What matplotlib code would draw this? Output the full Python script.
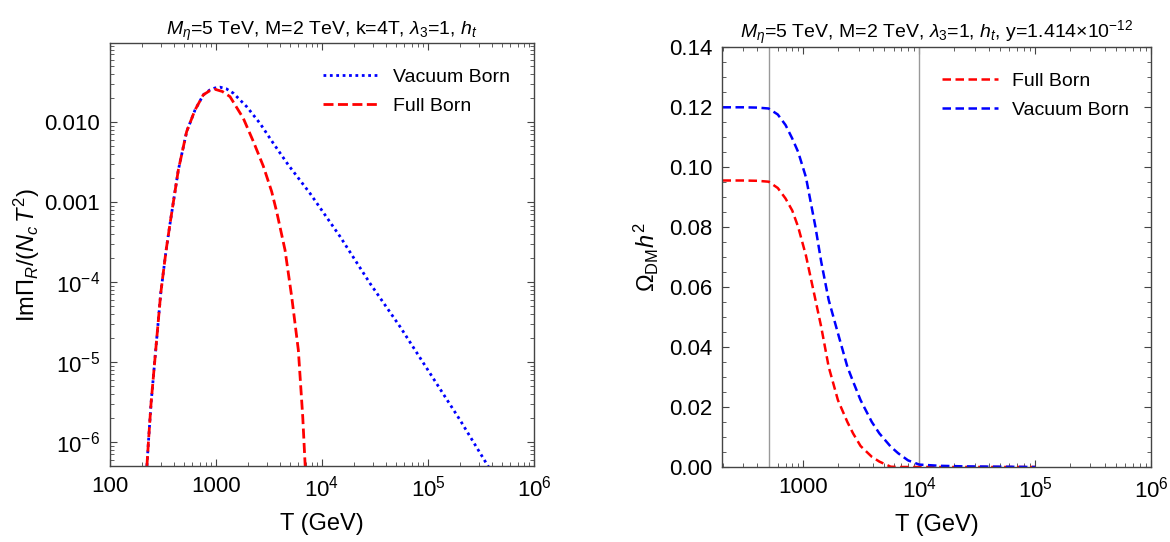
import matplotlib
matplotlib.use("Agg")
import matplotlib.pyplot as plt
from matplotlib.ticker import NullFormatter, LogLocator, MultipleLocator

plt.rcParams['font.family'] = ['Liberation Sans', 'DejaVu Sans']
plt.rcParams['mathtext.fontset'] = 'custom'
plt.rcParams['mathtext.rm'] = 'Liberation Sans'
plt.rcParams['mathtext.it'] = 'Liberation Sans:italic'
plt.rcParams['mathtext.bf'] = 'Liberation Sans:bold'

# left panel: Im Pi_R / (N_c T^2) vs T
T_full = [223, 230, 244, 270, 301, 337, 368, 441, 529, 634, 759, 870, 979, 1150, 1356,
          1810, 2250, 2795, 3350, 3740, 4480, 5180, 5980, 6580, 6920, 7000]
rate_full = [5.0e-7, 9.6e-7, 3.05e-6, 1.41e-5, 7.2e-5, 2.4e-4, 5.3e-4, 2.5e-3, 7.6e-3,
             0.0141, 0.0218, 0.0245, 0.0256, 0.0240, 0.0207, 0.0111, 5.7e-3, 2.8e-3,
             1.35e-3, 7.5e-4, 2.5e-4, 6.5e-5, 1.41e-5, 2.07e-6, 5.4e-7, 4.0e-7]
T_vac = [223, 230, 244, 270, 301, 337, 368, 441, 529, 634, 759, 870, 979, 1091, 1250,
         1456, 1950, 2600, 3475, 4810, 7710, 14790, 28370, 54450, 104500, 200400,
         368000, 400000]
rate_vac = [5.0e-7, 9.6e-7, 3.05e-6, 1.41e-5, 7.2e-5, 2.4e-4, 5.3e-4, 2.5e-3, 7.6e-3,
            0.0141, 0.0218, 0.0250, 0.0266, 0.0272, 0.0260, 0.0229, 0.0155, 9.6e-3,
            5.4e-3, 2.9e-3, 1.28e-3, 3.7e-4, 9.6e-5, 2.76e-5, 7.2e-6, 1.88e-6,
            5.0e-7, 4.2e-7]

# right panel: Omega_DM h^2 vs T
T_om = [200, 300, 400, 500, 600, 700, 800, 900, 1050, 1269, 1421, 1650, 1983, 2393,
        2680, 3110, 3890, 4520, 5660, 6560, 8000, 10000, 15000, 25100, 50000, 100000]
omega_full = [0.0955, 0.0955, 0.0954, 0.0951, 0.0930, 0.0895, 0.0855, 0.0800, 0.0705,
              0.0557, 0.0468, 0.0334, 0.0223, 0.0150, 0.0112, 0.0070, 0.0034, 0.0018,
              0.0001, 0.0, 0.0, 0.0, 0.0, 0.0, 0.0, 0.0]
omega_vac = [0.1199, 0.1199, 0.1198, 0.1195, 0.1175, 0.1140, 0.1095, 0.1050, 0.0966,
             0.0800, 0.0685, 0.0557, 0.0446, 0.0334, 0.0285, 0.0223, 0.0150, 0.0112,
             0.0068, 0.0046, 0.0022, 0.0008, 0.0004, 0.0002, 0.0001, 0.0]
vlines = [500, 10000]

W, H = 1170, 542
fig = plt.figure(figsize=(W / 100, H / 100), dpi=100)
ax1 = fig.add_axes([110 / W, 1 - 466 / H, 424 / W, 423 / H])
ax2 = fig.add_axes([722 / W, 1 - 467 / H, 429 / W, 420 / H])

frame = '#444444'
for ax in (ax1, ax2):
    for s in ax.spines.values():
        s.set_color(frame)
        s.set_linewidth(1.0)
    ax.tick_params(which='both', direction='in', top=True, right=True, color=frame,
                   labelsize=16, pad=7)
    ax.tick_params(which='major', length=5, width=0.8)
    ax.tick_params(which='minor', length=3, width=0.6)

# left
ax1.plot(T_vac, rate_vac, color='blue', lw=2, ls=(0, (1, 1.3)), label='Vacuum Born')
ax1.plot(T_full, rate_full, color='red', lw=2, ls=(0, (3.6, 1.6)), label='Full Born')
ax1.set_xscale('log')
ax1.set_yscale('log')
ax1.set_xlim(100, 1e6)
ax1.set_ylim(5.0e-7, 0.097)
ax1.set_xticks([100, 1000, 1e4, 1e5, 1e6])
ax1.set_xticklabels(['100', '1000', '$10^4$', '$10^5$', '$10^6$'])
ax1.set_yticks([1e-6, 1e-5, 1e-4, 1e-3, 1e-2])
ax1.set_yticklabels(['$10^{-6}$', '$10^{-5}$', '$10^{-4}$', '0.001', '0.010'])
ax1.xaxis.set_minor_locator(LogLocator(base=10, subs=range(2, 10), numticks=20))
ax1.yaxis.set_minor_locator(LogLocator(base=10, subs=range(2, 10), numticks=20))
ax1.xaxis.set_minor_formatter(NullFormatter())
ax1.yaxis.set_minor_formatter(NullFormatter())
ax1.set_xlabel('T (GeV)', fontsize=17, labelpad=8)
ax1.set_ylabel(r'Im$\Pi_R/(N_c\,T^2)$', fontsize=17, labelpad=2)
ax1.set_title(r'$M_\eta$=5 TeV, M=2 TeV, k=4T, $\lambda_3$=1, $h_t$', fontsize=14, pad=6)
ax1.legend(loc='upper left', frameon=False, fontsize=14, handlelength=2.9,
           handletextpad=0.7, labelspacing=0.6, borderpad=0, borderaxespad=0,
           bbox_to_anchor=(0.502, 0.94))

# right
for v in vlines:
    ax2.axvline(v, color='#999999', lw=1.0)
ax2.plot(T_om, omega_full, color='red', lw=1.8, ls=(0, (3.4, 1.8)), label='Full Born')
ax2.plot(T_om, omega_vac, color='blue', lw=1.8, ls=(0, (3.4, 1.8)), label='Vacuum Born')
ax2.set_xscale('log')
ax2.set_xlim(198, 1e6)
ax2.set_ylim(0, 0.14)
ax2.set_xticks([1000, 1e4, 1e5, 1e6])
ax2.set_xticklabels(['1000', '$10^4$', '$10^5$', '$10^6$'])
ax2.xaxis.set_minor_locator(LogLocator(base=10, subs=range(2, 10), numticks=20))
ax2.xaxis.set_minor_formatter(NullFormatter())
ax2.yaxis.set_minor_locator(MultipleLocator(0.005))
ax2.set_yticks([0.0, 0.02, 0.04, 0.06, 0.08, 0.10, 0.12, 0.14])
ax2.set_yticklabels(['0.00', '0.02', '0.04', '0.06', '0.08', '0.10', '0.12', '0.14'])
ax2.set_xlabel('T (GeV)', fontsize=17, labelpad=8)
ax2.set_ylabel(r'$\Omega_{\rm DM}h^2$', fontsize=17, labelpad=6)
ax2.set_title(r'$M_\eta$=5 TeV, M=2 TeV, $\lambda_3$=1, $h_t$, y=1.414$\times$10$^{-12}$',
              fontsize=14, pad=6)
ax2.legend(loc='upper left', frameon=False, fontsize=14, handlelength=2.9,
           handletextpad=0.7, labelspacing=0.6, borderpad=0, borderaxespad=0,
           bbox_to_anchor=(0.512, 0.94))

fig.savefig('out.png', dpi=100)
